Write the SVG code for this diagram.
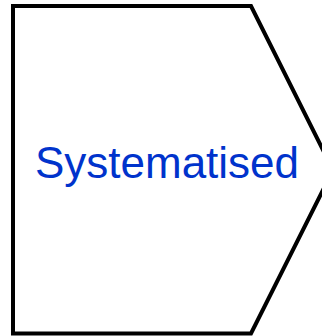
<svg xmlns="http://www.w3.org/2000/svg" width="322" height="336" viewBox="0 0 322 336">
<style>
.shape{fill:#fff;stroke:#000;stroke-width:4;stroke-linejoin:miter}
.label{font-family:"Liberation Sans",Arial,sans-serif;font-size:44px;fill:#0033cc;text-anchor:middle}
</style>
<rect width="322" height="336" fill="#fff"/>
<g id="connectors"></g>
<g id="node-systematised">
<polygon class="shape" points="13,6 251,6 333,170 251,333.5 13,333.5"/>
<text class="label" x="167" y="178">Systematised</text>
</g>
</svg>
